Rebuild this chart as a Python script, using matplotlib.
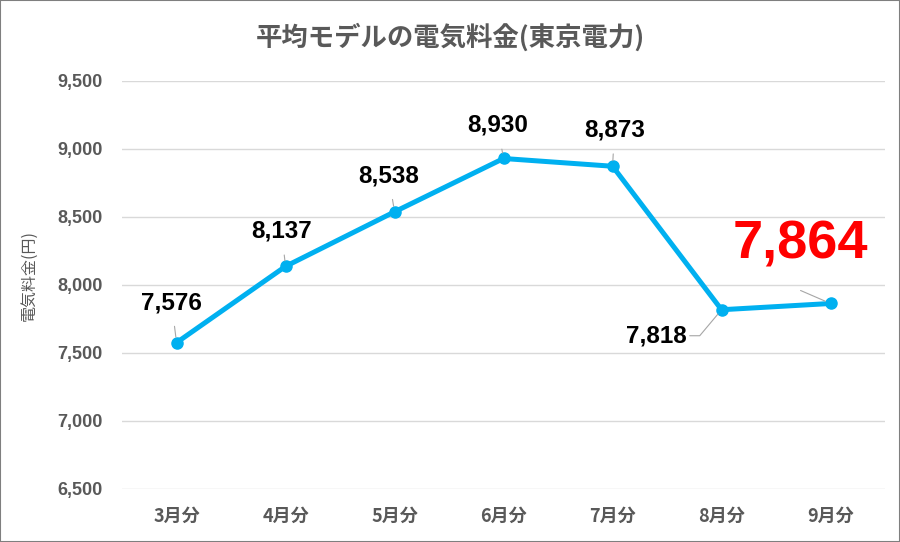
import matplotlib.pyplot as plt
from matplotlib.patches import Rectangle

plt.rcParams['font.family'] = ['Liberation Sans', 'Noto Sans CJK JP']

months = ['3月分', '4月分', '5月分', '6月分', '7月分', '8月分', '9月分']
bill = [7576, 8137, 8538, 8930, 8873, 7818, 7864]
yticks = [6500, 7000, 7500, 8000, 8500, 9000, 9500]
# label offsets in pixels (dx, dy) from each point
offsets = [(-5, 40), (-4, 35), (-6, 36), (-6, 33), (2, 36), (-65, -26), (-30, 59)]

gray = '#595959'
blue = '#00B0F0'
lead = '#A6A6A6'

fig = plt.figure(figsize=(9, 5.42), dpi=100)
ax = fig.add_axes([0.1356, 0.0978, 0.8478, 0.7528])

x = list(range(len(months)))
ax.plot(x, bill, color=blue, linewidth=3.6, marker='o', markersize=8,
        solid_capstyle='round', zorder=3)

box = dict(boxstyle='square,pad=0.5', fc='none', ec='none')
for i, v in enumerate(bill[:-1]):
    arrow = dict(arrowstyle='-', color=lead, lw=0.8, shrinkA=0, shrinkB=4)
    if i == 5:
        arrow['connectionstyle'] = 'angle,angleA=0,angleB=50,rad=0'
        arrow['relpos'] = (1, 0.5)
    ax.annotate(f'{v:,}', xy=(i, v), xytext=offsets[i], textcoords='offset pixels',
                ha='center', va='center', fontsize=17.5, fontweight='bold',
                color='black', bbox=box if i != 5 else None, arrowprops=arrow)

# highlighted latest value
i = len(bill) - 1
ax.annotate(f'{bill[i]:,}', xy=(i, bill[i]), xytext=offsets[i], textcoords='offset pixels',
            ha='center', va='center', fontsize=39, fontweight='bold', color='#FF0000')
ax.annotate('', xy=(i, bill[i]), xytext=(-30, 13), textcoords='offset pixels',
            arrowprops=dict(arrowstyle='-', color=lead, lw=0.8, shrinkA=0, shrinkB=4))

ax.set_xlim(-0.5, 6.5)
ax.set_ylim(6500, 9500)
ax.set_yticks(yticks)
ax.set_yticklabels([f'{t:,}' for t in yticks], fontsize=13, fontweight='bold', color=gray)
ax.set_xticks(x)
ax.set_xticklabels(months, fontsize=13, fontweight='bold', color=gray,
                   family=['Noto Sans CJK JP'])
ax.tick_params(length=0, pad=14)
ax.tick_params(axis='x', pad=13)
ax.grid(axis='y', color='#D9D9D9', linewidth=1)
for s in ax.spines.values():
    s.set_visible(False)
ax.set_axisbelow(True)

ax.set_ylabel('電気料金(円)', fontsize=11.5, color=gray, family=['Noto Sans CJK JP'])
ax.yaxis.set_label_coords(-0.111, 0.524)
fig.text(0.5, 0.93, '平均モデルの電気料金(東京電力)', ha='center', va='center',
         fontsize=19, fontweight='bold', color=gray, family=['Noto Sans CJK JP'])

fig.patches.append(Rectangle((0, 0), 1, 1, transform=fig.transFigure, fill=False,
                             edgecolor='#7F7F7F', linewidth=1.5))

fig.savefig('out.png', dpi=100)
